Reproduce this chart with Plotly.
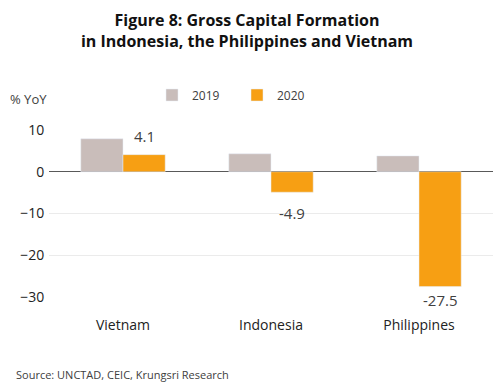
import plotly.graph_objects as go

countries = ["Vietnam", "Indonesia", "Philippines"]
y2019 = [7.9, 4.3, 3.8]
y2020 = [4.1, -4.9, -27.5]
labels2020 = ["4.1", "-4.9", "-27.5"]
label_yshift = [19, -21, -13]

W, H = 494, 392
L, R, T, B = 49, 1, 130, 95
pw, ph = W - L - R, H - T - B
font = "Open Sans, Liberation Sans, sans-serif"
bargap = 0.43
half_bar = pw / len(countries) * (1 - bargap) / 4

fig = go.Figure()
fig.add_bar(x=countries, y=y2019, name="2019", marker_color="#C9BDBA")
fig.add_bar(x=countries, y=y2020, name="2020", marker_color="#F79F13")

annotations = [
    dict(x=c, y=v, text=t, xref="x", yref="y", showarrow=False, xshift=half_bar, yshift=s,
         xanchor="center", yanchor="middle", font=dict(size=15, color="#404040"))
    for c, v, t, s in zip(countries, y2020, labels2020, label_yshift)
]
annotations += [
    dict(text="% YoY", xref="paper", yref="paper", x=(8 - L) / pw, y=1 + (T - 99) / ph,
         xanchor="left", yanchor="middle", showarrow=False, font=dict(size=13, color="#404040")),
    dict(text="Source: UNCTAD, CEIC, Krungsri Research", xref="paper", yref="paper",
         x=(14 - L) / pw, y=-(374 - (T + ph)) / ph, xanchor="left", yanchor="middle",
         showarrow=False, font=dict(size=11, color="#404040")),
]

fig.update_layout(
    width=W, height=H, autosize=False,
    margin=dict(l=L, r=R, t=T, b=B, autoexpand=False),
    paper_bgcolor="white", plot_bgcolor="white",
    barmode="group", bargap=bargap, bargroupgap=0,
    font=dict(family=font, color="#404040"),
    title=dict(text="<b>Figure 8: Gross Capital Formation<br>in Indonesia, the Philippines and Vietnam</b>",
               x=0.5, xanchor="center", y=1 - 26 / H, yanchor="middle", yref="container",
               font=dict(size=16, color="#111", family=font)),
    legend=dict(orientation="h", x=(152 - L) / pw, xanchor="left",
                y=1 + (T - 95) / ph, yanchor="middle",
                font=dict(size=12, color="#404040"), itemwidth=30,
                entrywidth=40, entrywidthmode="pixels",
                bgcolor="rgba(0,0,0,0)"),
    xaxis=dict(showgrid=False, showline=False, ticks="", tickfont=dict(size=14, color="#222"),
               ticklabelstandoff=18),
    yaxis=dict(range=[-30, 10], dtick=10, showgrid=True, gridcolor="#EBEBEB",
               zeroline=True, zerolinecolor="#595959", zerolinewidth=1.2,
               ticks="outside", ticklen=1, tickcolor="rgba(0,0,0,0)",
               tickfont=dict(size=14, color="#222"), ticklabelstandoff=0),
    annotations=annotations,
)
fig.write_html("out.html", post_script="document.body.style.margin='0';",
               config={"displayModeBar": False})
